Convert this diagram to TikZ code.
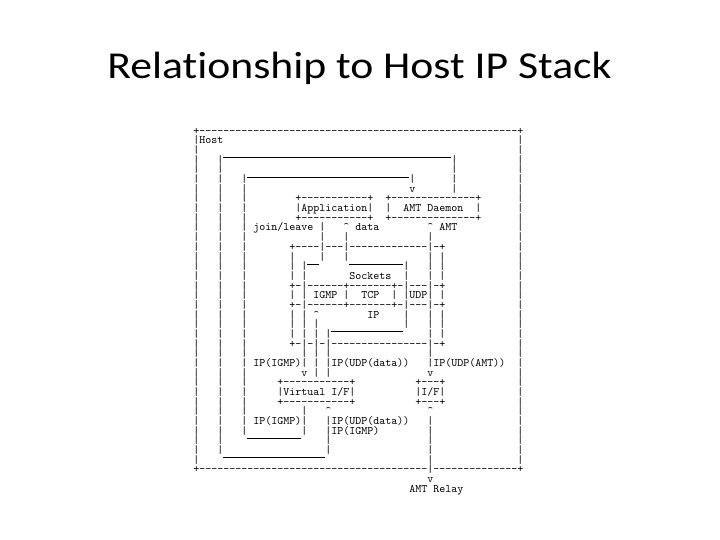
\documentclass[tikz,border=0pt]{standalone}
\usepackage{fontspec}
\newfontfamily\titlefont{Carlito}[Ligatures={NoCommon,NoRare,NoDiscretionary}]
\newfontfamily\asciifont{lmmono10-regular.otf}
\ExplSyntaxOn
\cs_new:Npn \asrep #1#2 { \prg_replicate:nn {#1} {#2} }
\ExplSyntaxOff
\newlength\ascw \setlength\ascw{6bp}
\newcommand\asgap[1]{\hspace*{#1\ascw}}
\newcommand\asus[1]{\rule[-4.4bp]{#1\ascw}{0.8bp}}
\newcommand\ca{\textasciicircum}
\tikzset{
  asc/.style={font=\asciifont\fontsize{11.4286bp}{9.67bp}\selectfont, anchor=base west, inner sep=0pt, outer sep=0pt, text=black},
  ttl/.style={font=\titlefont\fontsize{38bp}{46bp}\selectfont, anchor=base, inner sep=0pt, text=black, xscale=1.15, transform shape}
}
\begin{document}
\begin{tikzpicture}[x=1bp,y=-1bp]
\useasboundingbox[fill=white] (0,0) rectangle (720,540);
\node[ttl] (title) at (359.5,79) {Relationship to Host IP Stack};
\node[asc] (r0) at (193.3,134.30) {+\asrep{53}{-}+};
\node[asc] (r1) at (193.3,143.97) {|Host\asgap{49}|};
\node[asc] (r2) at (193.3,153.64) {|\asgap{4}\asus{38}\asgap{11}|};
\node[asc] (r3) at (193.3,163.31) {|\asgap{3}|\asgap{38}|\asgap{10}|};
\node[asc] (r4) at (193.3,172.98) {|\asgap{3}|\asgap{4}\asus{27}\asgap{7}|\asgap{10}|};
\node[asc] (r5) at (193.3,182.65) {|\asgap{3}|\asgap{3}|\asgap{27}|\asgap{6}|\asgap{10}|};
\node[asc] (r6) at (193.3,192.32) {|\asgap{3}|\asgap{3}|\asgap{27}v\asgap{6}|\asgap{10}|};
\node[asc] (r7) at (193.3,201.99) {|\asgap{3}|\asgap{3}|\asgap{8}+\asrep{11}{-}+\asgap{2}+\asrep{14}{-}+\asgap{6}|};
\node[asc] (r8) at (193.3,211.66) {|\asgap{3}|\asgap{3}|\asgap{8}|Application|\asgap{2}|\asgap{2}AMT\asgap{1}Daemon\asgap{2}|\asgap{6}|};
\node[asc] (r9) at (193.3,221.33) {|\asgap{3}|\asgap{3}|\asgap{8}+\asrep{11}{-}+\asgap{2}+\asrep{14}{-}+\asgap{6}|};
\node[asc] (r10) at (193.3,231.00) {|\asgap{3}|\asgap{3}|\asgap{1}join/leave\asgap{1}|\asgap{3}\ca\asgap{1}data\asgap{8}\ca\asgap{1}AMT\asgap{10}|};
\node[asc] (r11) at (193.3,240.67) {|\asgap{3}|\asgap{3}|\asgap{12}|\asgap{3}|\asgap{13}|\asgap{14}|};
\node[asc] (r12) at (193.3,250.34) {|\asgap{3}|\asgap{3}|\asgap{7}+\asrep{4}{-}|\asrep{3}{-}|\asrep{13}{-}|-+\asgap{12}|};
\node[asc] (r13) at (193.3,260.01) {|\asgap{3}|\asgap{3}|\asgap{7}|\asgap{2}\asus{2}|\asgap{3}|\asus{9}\asgap{4}|\asgap{1}|\asgap{12}|};
\node[asc] (r14) at (193.3,269.68) {|\asgap{3}|\asgap{3}|\asgap{7}|\asgap{1}|\asgap{16}|\asgap{3}|\asgap{1}|\asgap{12}|};
\node[asc] (r15) at (193.3,279.35) {|\asgap{3}|\asgap{3}|\asgap{7}|\asgap{1}|\asgap{7}Sockets\asgap{2}|\asgap{3}|\asgap{1}|\asgap{12}|};
\node[asc] (r16) at (193.3,289.02) {|\asgap{3}|\asgap{3}|\asgap{7}+-|\asrep{6}{-}+\asrep{7}{-}+-|\asrep{3}{-}|-+\asgap{12}|};
\node[asc] (r17) at (193.3,298.69) {|\asgap{3}|\asgap{3}|\asgap{7}|\asgap{1}|\asgap{1}IGMP\asgap{1}|\asgap{2}TCP\asgap{2}|\asgap{1}|UDP|\asgap{1}|\asgap{12}|};
\node[asc] (r18) at (193.3,308.36) {|\asgap{3}|\asgap{3}|\asgap{7}+-|\asrep{6}{-}+\asrep{7}{-}+-|\asrep{3}{-}|-+\asgap{12}|};
\node[asc] (r19) at (193.3,318.03) {|\asgap{3}|\asgap{3}|\asgap{7}|\asgap{1}|\asgap{1}\ca\asgap{8}IP\asgap{4}|\asgap{3}|\asgap{1}|\asgap{12}|};
\node[asc] (r20) at (193.3,327.70) {|\asgap{3}|\asgap{3}|\asgap{7}|\asgap{1}|\asgap{1}|\asgap{2}\asus{12}|\asgap{3}|\asgap{1}|\asgap{12}|};
\node[asc] (r21) at (193.3,337.37) {|\asgap{3}|\asgap{3}|\asgap{7}|\asgap{1}|\asgap{1}|\asgap{1}|\asgap{16}|\asgap{1}|\asgap{12}|};
\node[asc] (r22) at (193.3,347.04) {|\asgap{3}|\asgap{3}|\asgap{7}+-|-|-|\asrep{16}{-}|-+\asgap{12}|};
\node[asc] (r23) at (193.3,356.71) {|\asgap{3}|\asgap{3}|\asgap{9}|\asgap{1}|\asgap{1}|\asgap{16}|\asgap{14}|};
\node[asc] (r24) at (193.3,366.38) {|\asgap{3}|\asgap{3}|\asgap{1}IP(IGMP)|\asgap{1}|\asgap{1}|IP(UDP(data))\asgap{3}|IP(UDP(AMT))\asgap{2}|};
\node[asc] (r25) at (193.3,376.05) {|\asgap{3}|\asgap{3}|\asgap{9}v\asgap{1}|\asgap{1}|\asgap{16}v\asgap{14}|};
\node[asc] (r26) at (193.3,385.72) {|\asgap{3}|\asgap{3}|\asgap{5}+\asrep{11}{-}+\asgap{10}+---+\asgap{12}|};
\node[asc] (r27) at (193.3,395.39) {|\asgap{3}|\asgap{3}|\asgap{5}|Virtual\asgap{1}I/F|\asgap{10}|I/F|\asgap{12}|};
\node[asc] (r28) at (193.3,405.06) {|\asgap{3}|\asgap{3}|\asgap{5}+\asrep{11}{-}+\asgap{10}+---+\asgap{12}|};
\node[asc] (r29) at (193.3,414.73) {|\asgap{3}|\asgap{3}|\asgap{9}|\asgap{3}\ca\asgap{16}\ca\asgap{14}|};
\node[asc] (r30) at (193.3,424.40) {|\asgap{3}|\asgap{3}|\asgap{1}IP(IGMP)|\asgap{3}|IP(UDP(data))\asgap{3}|\asgap{14}|};
\node[asc] (r31) at (193.3,434.07) {|\asgap{3}|\asgap{3}|\asus{9}|\asgap{3}|IP(IGMP)\asgap{8}|\asgap{14}|};
\node[asc] (r32) at (193.3,443.74) {|\asgap{3}|\asgap{17}|\asgap{16}|\asgap{14}|};
\node[asc] (r33) at (193.3,453.41) {|\asgap{3}|\asus{17}|\asgap{16}|\asgap{14}|};
\node[asc] (r34) at (193.3,463.08) {|\asgap{38}|\asgap{14}|};
\node[asc] (r35) at (193.3,472.75) {+\asrep{38}{-}|\asrep{14}{-}+};
\node[asc] (r36) at (193.3,482.42) {\asgap{39}v};
\node[asc] (r37) at (193.3,492.09) {\asgap{36}AMT\asgap{1}Relay};
\end{tikzpicture}
\end{document}
